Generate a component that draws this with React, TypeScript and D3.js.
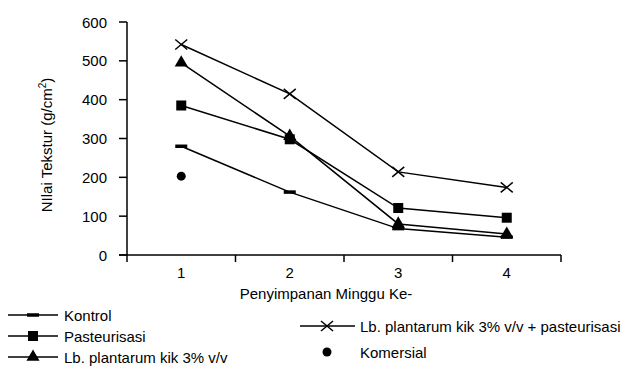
import React from "react";
import * as d3 from "d3";

const weeks = ["1", "2", "3", "4"];
const yTicks = [0, 100, 200, 300, 400, 500, 600];
const kontrol = [280, 162, 68, 46];
const pasteurisasi = [385, 298, 121, 96];
const lbPlantarum = [495, 306, 80, 54];
const lbPasteurisasi = [542, 415, 214, 174];
const komersial = [203];

const seriesNames = [
  "Kontrol",
  "Pasteurisasi",
  "Lb. plantarum kik 3% v/v",
  "Lb. plantarum kik 3% v/v + pasteurisasi",
  "Komersial",
];

const W = 632;
const H = 366;
const FONT = "'Liberation Sans', Arial, Helvetica, sans-serif";
const FS = 15;

type MarkerKind = "dash" | "square" | "triangle" | "cross" | "dot";

function Marker({ kind, x, y }: { kind: MarkerKind; x: number; y: number }) {
  switch (kind) {
    case "dash":
      return <rect x={x - 6} y={y - 1.75} width={12} height={3.5} fill="#000" />;
    case "square":
      return <rect x={x - 5} y={y - 5} width={10} height={10} fill="#000" />;
    case "triangle":
      return (
        <path
          d={d3.symbol().type(d3.symbolTriangle).size(75)() || ""}
          transform={`translate(${x},${y})`}
          fill="#000"
        />
      );
    case "cross":
      return (
        <g stroke="#000" strokeWidth={1.5}>
          <line x1={x - 6} y1={y - 5} x2={x + 6} y2={y + 5} />
          <line x1={x - 6} y1={y + 5} x2={x + 6} y2={y - 5} />
        </g>
      );
    case "dot":
      return <circle cx={x} cy={y} r={4.5} fill="#000" />;
  }
}

export default function App() {
  const x = d3.scaleBand<string>().domain(weeks).range([127, 561]);
  const y = d3.scaleLinear().domain([0, 600]).range([255, 22]);
  const cx = (w: string) => (x(w) as number) + x.bandwidth() / 2;

  const lineGen = d3
    .line<number>()
    .x((_, i) => cx(weeks[i]))
    .y((d) => y(d));

  const series: { name: string; values: number[]; kind: MarkerKind }[] = [
    { name: seriesNames[0], values: kontrol, kind: "dash" },
    { name: seriesNames[1], values: pasteurisasi, kind: "square" },
    { name: seriesNames[2], values: lbPlantarum, kind: "triangle" },
    { name: seriesNames[3], values: lbPasteurisasi, kind: "cross" },
  ];

  const boundaries = [...weeks.map((w) => x(w) as number), 561];

  const legendLeft = [
    { name: seriesNames[0], kind: "dash" as MarkerKind, y: 315 },
    { name: seriesNames[1], kind: "square" as MarkerKind, y: 336 },
    { name: seriesNames[2], kind: "triangle" as MarkerKind, y: 357 },
  ];

  return (
    <svg
      width={W}
      height={H}
      style={{ position: "absolute", left: 0, top: 0, background: "#fff" }}
      fontFamily={FONT}
    >
      {/* axes */}
      <line x1={127} y1={y(600)} x2={127} y2={255} stroke="#000" strokeWidth={1.5} />
      <line x1={119} y1={255} x2={561} y2={255} stroke="#000" strokeWidth={1.5} />
      {yTicks.map((t) => (
        <g key={t}>
          <line x1={119} x2={127} y1={y(t)} y2={y(t)} stroke="#000" strokeWidth={1.5} />
          <text x={107} y={y(t) + 5.5} textAnchor="end" fontSize={FS}>
            {t}
          </text>
        </g>
      ))}
      {boundaries.map((b, i) => (
        <line key={i} x1={b} x2={b} y1={255} y2={262} stroke="#000" strokeWidth={1.5} />
      ))}
      {weeks.map((w) => (
        <text key={w} x={cx(w)} y={278} textAnchor="middle" fontSize={FS}>
          {w}
        </text>
      ))}
      <text x={326} y={299} textAnchor="middle" fontSize={FS}>
        Penyimpanan Minggu Ke-
      </text>
      <text transform={`translate(52,145) rotate(-90)`} textAnchor="middle" fontSize={FS}>
        NIlai Tekstur (g/cm<tspan fontSize={10} dy={-6}>2</tspan>
        <tspan dy={6}>)</tspan>
      </text>

      {/* series */}
      {series.map((s) => (
        <g key={s.name}>
          <path d={lineGen(s.values) || ""} fill="none" stroke="#000" strokeWidth={1.5} />
          {s.values.map((v, i) => (
            <Marker key={i} kind={s.kind} x={cx(weeks[i])} y={y(v)} />
          ))}
        </g>
      ))}
      {komersial.map((v, i) => (
        <Marker key={i} kind="dot" x={cx(weeks[i])} y={y(v)} />
      ))}

      {/* legend */}
      {legendLeft.map((l) => (
        <g key={l.name}>
          <line x1={8} x2={58} y1={l.y} y2={l.y} stroke="#000" strokeWidth={1.5} />
          <Marker kind={l.kind} x={33} y={l.y} />
          <text x={64} y={l.y + 5.5} fontSize={FS}>
            {l.name}
          </text>
        </g>
      ))}
      <g>
        <line x1={300} x2={355} y1={326} y2={326} stroke="#000" strokeWidth={1.5} />
        <Marker kind="cross" x={327} y={326} />
        <text x={360} y={331.5} fontSize={FS}>
          {seriesNames[3]}
        </text>
      </g>
      <g>
        <Marker kind="dot" x={327} y={352} />
        <text x={360} y={357.5} fontSize={FS}>
          {seriesNames[4]}
        </text>
      </g>
    </svg>
  );
}
